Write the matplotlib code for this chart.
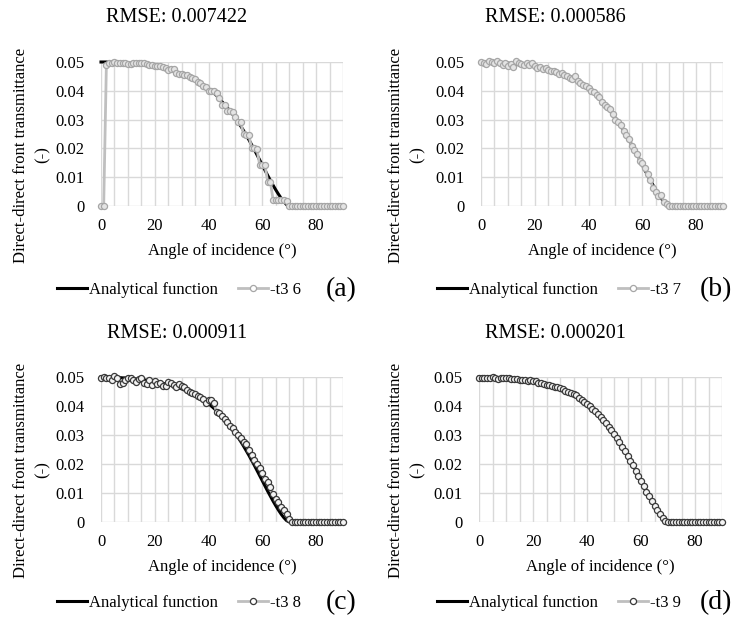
import matplotlib
matplotlib.use("Agg")
import matplotlib.pyplot as plt
from matplotlib.lines import Line2D
from matplotlib.ticker import MultipleLocator, FixedLocator

plt.rcParams['font.family'] = ['Liberation Serif', 'DejaVu Serif']

# angle of incidence, one point per degree
angles = list(range(0, 91))

analytical = [
    0.0500, 0.0500, 0.0500, 0.0499, 0.0499, 0.0499, 0.0498, 0.0498, 0.0497, 0.0497,
    0.0496, 0.0495, 0.0494, 0.0493, 0.0492, 0.0491, 0.0490, 0.0489, 0.0487, 0.0486,
    0.0484, 0.0482, 0.0480, 0.0478, 0.0476, 0.0474, 0.0471, 0.0468, 0.0465, 0.0462,
    0.0459, 0.0455, 0.0451, 0.0447, 0.0443, 0.0438, 0.0433, 0.0427, 0.0421, 0.0415,
    0.0408, 0.0400, 0.0392, 0.0383, 0.0373, 0.0362, 0.0352, 0.0341, 0.0330, 0.0318,
    0.0305, 0.0291, 0.0277, 0.0262, 0.0246, 0.0230, 0.0213, 0.0196, 0.0178, 0.0160,
    0.0142, 0.0124, 0.0106, 0.0089, 0.0072, 0.0056, 0.0041, 0.0027, 0.0015, 0.0005,
    0, 0, 0, 0, 0, 0, 0, 0, 0, 0,
    0, 0, 0, 0, 0, 0, 0, 0, 0, 0, 0,
]

t3_6 = [
    0, 0, 0.0490, 0.0495, 0.0497, 0.0500, 0.0498, 0.0497, 0.0496, 0.0495,
    0.0494, 0.0493, 0.0495, 0.0497, 0.0498, 0.0497, 0.0495, 0.0493, 0.0490, 0.0488,
    0.0487, 0.0486, 0.0485, 0.0483, 0.0478, 0.0472, 0.0476, 0.0477, 0.0462, 0.0460,
    0.0459, 0.0455, 0.0456, 0.0448, 0.0443, 0.0440, 0.0430, 0.0426, 0.0416, 0.0414,
    0.0401, 0.0400, 0.0398, 0.0392, 0.0376, 0.0352, 0.0350, 0.0331, 0.0330, 0.0328,
    0.0310, 0.0292, 0.0290, 0.0249, 0.0248, 0.0246, 0.0201, 0.0200, 0.0198, 0.0143,
    0.0142, 0.0141, 0.0083, 0.0082, 0.0022, 0.0021, 0.0021, 0.0020, 0.0020, 0.0019,
    0, 0, 0, 0, 0, 0, 0, 0, 0, 0,
    0, 0, 0, 0, 0, 0, 0, 0, 0, 0, 0,
]

t3_7 = [
    0.0500, 0.0498, 0.0493, 0.0505, 0.0500, 0.0497, 0.0502, 0.0495, 0.0490, 0.0497,
    0.0486, 0.0494, 0.0482, 0.0503, 0.0496, 0.0494, 0.0490, 0.0495, 0.0488, 0.0496,
    0.0486, 0.0480, 0.0484, 0.0475, 0.0478, 0.0472, 0.0470, 0.0468, 0.0466, 0.0460,
    0.0462, 0.0456, 0.0452, 0.0445, 0.0440, 0.0450, 0.0433, 0.0428, 0.0420, 0.0415,
    0.0410, 0.0398, 0.0396, 0.0385, 0.0378, 0.0362, 0.0352, 0.0345, 0.0338, 0.0318,
    0.0300, 0.0290, 0.0280, 0.0262, 0.0246, 0.0232, 0.0210, 0.0196, 0.0180, 0.0155,
    0.0150, 0.0132, 0.0110, 0.0090, 0.0062, 0.0050, 0.0034, 0.0038, 0.0015, 0.0008,
    0, 0, 0, 0, 0, 0, 0, 0, 0, 0,
    0, 0, 0, 0, 0, 0, 0, 0, 0, 0, 0,
]

t3_8 = [
    0.0495, 0.0500, 0.0497, 0.0498, 0.0490, 0.0505, 0.0495, 0.0475, 0.0478, 0.0490,
    0.0495, 0.0496, 0.0488, 0.0484, 0.0493, 0.0497, 0.0480, 0.0475, 0.0490, 0.0472,
    0.0485, 0.0475, 0.0480, 0.0470, 0.0470, 0.0482, 0.0478, 0.0474, 0.0465, 0.0475,
    0.0470, 0.0465, 0.0455, 0.0450, 0.0445, 0.0440, 0.0435, 0.0430, 0.0425, 0.0412,
    0.0420, 0.0422, 0.0410, 0.0378, 0.0375, 0.0365, 0.0355, 0.0345, 0.0330, 0.0325,
    0.0312, 0.0300, 0.0290, 0.0275, 0.0268, 0.0250, 0.0232, 0.0215, 0.0200, 0.0185,
    0.0168, 0.0150, 0.0138, 0.0120, 0.0095, 0.0080, 0.0068, 0.0052, 0.0042, 0.0028,
    0.0012, 0, 0, 0, 0, 0, 0, 0, 0, 0,
    0, 0, 0, 0, 0, 0, 0, 0, 0, 0, 0,
]

t3_9 = [
    0.0498, 0.0497, 0.0498, 0.0496, 0.0497, 0.0499, 0.0496, 0.0494, 0.0497, 0.0498,
    0.0495, 0.0496, 0.0493, 0.0494, 0.0492, 0.0490, 0.0491, 0.0488, 0.0487, 0.0489,
    0.0485, 0.0486, 0.0481, 0.0479, 0.0476, 0.0474, 0.0471, 0.0470, 0.0467, 0.0465,
    0.0461, 0.0458, 0.0453, 0.0449, 0.0446, 0.0441, 0.0437, 0.0428, 0.0420, 0.0414,
    0.0406, 0.0400, 0.0391, 0.0382, 0.0373, 0.0362, 0.0352, 0.0341, 0.0329, 0.0317,
    0.0304, 0.0290, 0.0276, 0.0260, 0.0244, 0.0228, 0.0212, 0.0195, 0.0177, 0.0159,
    0.0141, 0.0123, 0.0105, 0.0088, 0.0071, 0.0055, 0.0040, 0.0026, 0.0014, 0.0005,
    0, 0, 0, 0, 0, 0, 0, 0, 0, 0,
    0, 0, 0, 0, 0, 0, 0, 0, 0, 0, 0,
]

series = [t3_6, t3_7, t3_8, t3_9]
names = ["-t3 6", "-t3 7", "-t3 8", "-t3 9"]
rmse = ["RMSE: 0.007422", "RMSE: 0.000586", "RMSE: 0.000911", "RMSE: 0.000201"]
letters = ["(a)", "(b)", "(c)", "(d)"]
ytick_vals = [0, 0.01, 0.02, 0.03, 0.04, 0.05]
ytick_labels = ["0", "0.01", "0.02", "0.03", "0.04", "0.05"]

W, H = 736, 620
fig = plt.figure(figsize=(W / 100, H / 100), dpi=100)

# panel layout in pixels: axes left, right, top, bottom
boxes = [(101, 343, 62, 206), (481, 723, 62, 206),
         (101, 343, 377, 522), (479, 722, 377, 522)]
edge_cols = ["#a6a6a6", "#a6a6a6", "#3a3a3a", "#3a3a3a"]
face_cols = ["#e4e4e4", "#e4e4e4", "#f4f4f4", "#f4f4f4"]


def fx(px):
    return px / W


def fy(py):
    return 1 - py / H


for i, (l, r, t, b) in enumerate(boxes):
    ax = fig.add_axes([fx(l), fy(b), (r - l) / W, (b - t) / H])
    ax.plot(angles, analytical, color="black", lw=2.2, zorder=3, clip_on=False)
    ax.plot(angles, series[i], color="#bfbfbf", lw=2, marker="o", ms=4.4,
            mfc=face_cols[i], mec=edge_cols[i], mew=0.9, zorder=4, clip_on=False)
    ax.set_xlim(0, 90)
    ax.set_ylim(0, 0.05)
    ax.xaxis.set_major_locator(FixedLocator([0, 20, 40, 60, 80]))
    ax.xaxis.set_minor_locator(MultipleLocator(5))
    ax.set_yticks(ytick_vals)
    ax.set_yticklabels(ytick_labels)
    ax.grid(True, which="both", axis="x", color="#d9d9d9", lw=1)
    ax.grid(True, which="major", axis="y", color="#d9d9d9", lw=1)
    ax.set_axisbelow(True)
    for s in ax.spines.values():
        s.set_visible(False)
    ax.tick_params(which="both", length=0, labelsize=12)
    ax.tick_params(axis="y", pad=12)
    ax.tick_params(axis="x", pad=9)

    cx = (l + r) / 2
    title_x = 177 if i % 2 == 0 else 555
    title_y = 18 if i < 2 else 333
    fig.text(fx(title_x), fy(title_y), rmse[i], ha="center", va="center", fontsize=14.5)

    fig.text(fx(cx), fy(b + 45), "Angle of incidence (°)", ha="center", va="center",
             fontsize=12)

    ylab_x = 32 if i % 2 == 0 else 407
    ylab_y = 155 if i < 2 else 470
    fig.text(fx(ylab_x), fy(ylab_y), "Direct-direct front transmittance\n(-)",
             rotation=90, ha="center", va="center", multialignment="center",
             fontsize=12, linespacing=1.5)

    leg_y = 290 if i < 2 else 603
    leg_x = 179 if i % 2 == 0 else 559
    handles = [
        Line2D([], [], color="black", lw=2.2),
        Line2D([], [], color="#bfbfbf", lw=2, marker="o", ms=4.4,
               mfc="white", mec=edge_cols[i], mew=0.9),
    ]
    fig.legend(handles, ["Analytical function", names[i]], loc="center",
               bbox_to_anchor=(fx(leg_x), fy(leg_y)), ncol=2, frameon=False,
               fontsize=12, handlelength=1.8, handletextpad=0.1,
               columnspacing=1.2, borderpad=0, borderaxespad=0)

    let_x = 341 if i % 2 == 0 else 716
    fig.text(fx(let_x), fy(leg_y), letters[i], ha="center", va="center", fontsize=20)

fig.savefig("out.png", dpi=100)
